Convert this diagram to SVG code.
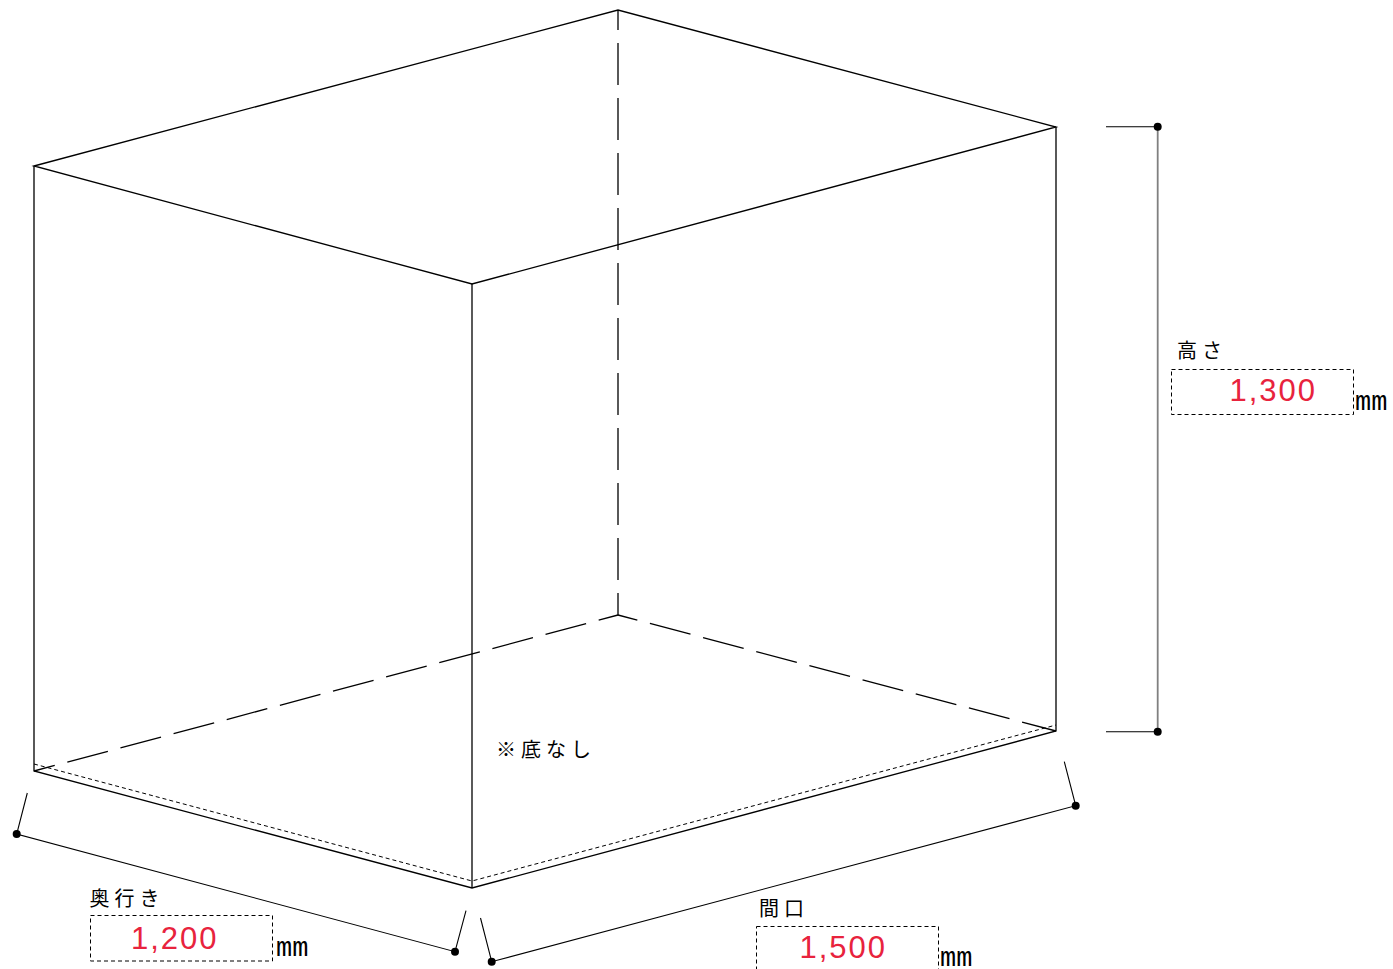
<svg xmlns="http://www.w3.org/2000/svg" width="1393" height="969" viewBox="0 0 1393 969">
<style>
.edge{stroke:#000;stroke-width:1.3;fill:none;stroke-linecap:butt}
.hid{stroke:#000;stroke-width:1.3;fill:none;stroke-dasharray:42 13;stroke-dashoffset:22}
.fine{stroke:#000;stroke-width:1;fill:none;stroke-dasharray:4 3}
.dim{stroke:#000;stroke-width:1.1;fill:none}
.dimg{stroke:#808080;stroke-width:1.8;fill:none}
.dot{fill:#000}
.box{fill:#fff;stroke:#000;stroke-width:1;stroke-dasharray:4 3}
.jp{font-family:"Noto Sans CJK JP","Noto Sans",sans-serif;font-size:20px;letter-spacing:5px;fill:#000}
.num{font-family:"Liberation Sans",Arial,sans-serif;font-size:31px;letter-spacing:2px;fill:#e8233d}
.mm{font-family:"Liberation Mono","DejaVu Sans Mono",monospace;font-size:27px;fill:#000}
</style>
<rect width="1393" height="969" fill="#fff"/>
<g id="box">
  <path class="hid" d="M618,10 L618,615"/>
  <path class="hid" d="M618,615 L34,771"/>
  <path class="hid" d="M618,615 L1056,731"/>
  <path class="fine" d="M34,764 L472,881 L1056,725"/>
  <path class="edge" d="M34,166 L618,10 L1056,127 L472,284 Z"/>
  <path class="edge" d="M34,166 L34,771 L472,888 L1056,731 L1056,127"/>
  <path class="edge" d="M472,284 L472,888"/>
</g>
<g id="connectors">
  <g id="dim-height">
    <path class="dim" d="M1106,126.7 L1157.7,126.7 M1106,731.7 L1157.7,731.7"/>
    <path class="dimg" d="M1157.7,126.7 L1157.7,731.7"/>
    <circle class="dot" cx="1157.7" cy="126.7" r="4"/>
    <circle class="dot" cx="1157.7" cy="731.7" r="4"/>
  </g>
  <g id="dim-depth">
    <path class="dim" d="M27.3,793 L16.7,834 L455,951.7 L466,910.7"/>
    <circle class="dot" cx="16.7" cy="834" r="4"/>
    <circle class="dot" cx="455" cy="951.7" r="4"/>
  </g>
  <g id="dim-width">
    <path class="dim" d="M480.5,918 L491.7,961.7 L1075.7,805.7 L1064.3,761.7"/>
    <circle class="dot" cx="491.7" cy="961.7" r="4"/>
    <circle class="dot" cx="1075.7" cy="805.7" r="4"/>
  </g>
</g>
<g id="label-height">
  <text class="jp" x="1177" y="358">高さ</text>
  <rect class="box" x="1171.5" y="369.5" width="182" height="45"/>
  <text class="num" x="1229.5" y="401">1,300</text>
  <text class="mm" x="1355" y="409.5">mm</text>
</g>
<g id="label-depth">
  <text class="jp" x="89.5" y="906">奥行き</text>
  <rect class="box" x="90.5" y="915.5" width="182" height="45.5"/>
  <text class="num" x="131" y="949">1,200</text>
  <text class="mm" x="276" y="956">mm</text>
</g>
<g id="label-width">
  <text class="jp" x="759" y="916">間口</text>
  <rect class="box" x="756.5" y="926.5" width="182" height="50"/>
  <text class="num" x="799.5" y="958">1,500</text>
  <text class="mm" x="940" y="966">mm</text>
</g>
<g id="note">
  <text class="jp" x="496" y="757">※底なし</text>
</g>
</svg>
